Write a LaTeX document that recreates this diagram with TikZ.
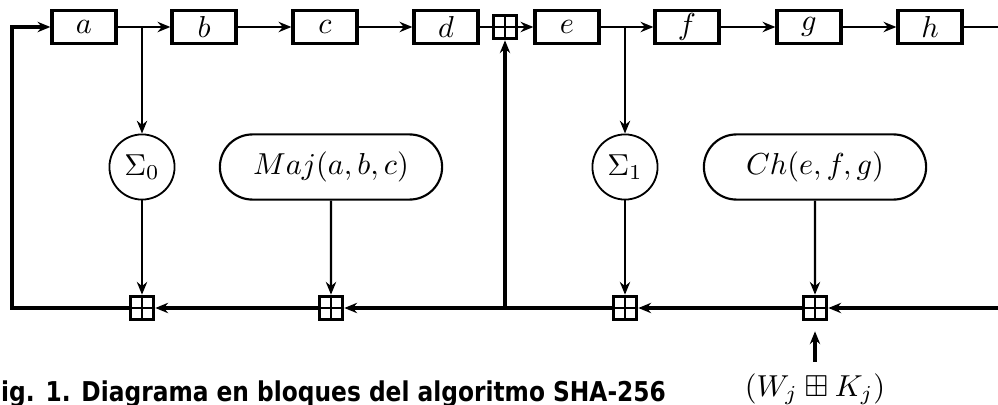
\documentclass[tikz,border=0pt]{standalone}
\usepackage{fontspec}
\usepackage{amssymb}
\usetikzlibrary{shapes.misc, arrows.meta}
\newfontfamily\capfont{DejaVu Sans}

\begin{document}
\begin{tikzpicture}[
			x=0.33pt, y=-0.33pt,
			line width=0.8pt, >={Stealth[length=4.2pt, width=3.4pt]},
			reg/.style={draw, line width=1.2pt, minimum width=21pt, minimum height=11pt, inner sep=0pt},
			sig/.style={draw, circle, line width=0.6pt, minimum size=21.5pt, inner sep=0pt},
			fun/.style={draw, rounded rectangle, line width=0.7pt, minimum width=80pt, minimum height=21.5pt},
			adder/.style={draw, line width=1pt, minimum size=7.8pt, inner sep=0pt,
				path picture={\draw[line width=0.7pt] (path picture bounding box.north) -- (path picture bounding box.south)
					(path picture bounding box.west) -- (path picture bounding box.east);}}
			]
			\useasboundingbox (0,0) rectangle (998,405);
			% registers
			\node[reg] (a) at (84,27) {$a$};
			\node[reg] (b) at (204,27) {$b$};
			\node[reg] (c) at (325,27) {$c$};
			\node[reg] (d) at (446,27) {$d$};
			\node[adder] (add0) at (505,27) {};
			\node[reg] (e) at (567,27) {$e$};
			\node[reg] (f) at (687,27) {$f$};
			\node[reg] (g) at (809,27) {$g$};
			\node[reg] (h) at (930,27) {$h$};
			% functions
			\node[sig] (sig0) at (142,167) {$\Sigma_0$};
			\node[fun] (maj) at (331,167) {$Maj(a,b,c)$};
			\node[sig] (sig1) at (625,167) {$\Sigma_1$};
			\node[fun] (ch) at (815,167) {$Ch(e,f,g)$};
			% adders
			\node[adder] (add1) at (142,308) {};
			\node[adder] (add2) at (331,308) {};
			\node[adder] (add3) at (625,308) {};
			\node[adder] (add4) at (815,308) {};
			\node (wk) at (815,389) {$(W_j \boxplus K_j)$};
			\coordinate (br0) at (142,27);
			\coordinate (br1) at (625,27);
			\coordinate (lft) at (12,27);
			\coordinate (jn) at (505,308);
			\coordinate (hout) at (998,27);
			\coordinate (rin) at (998,308);
			\path[->]
			(a) edge (b)
			(b) edge (c)
			(c) edge (d)
			(add0) edge (e)
			(e) edge (f)
			(f) edge (g)
			(g) edge (h)
			(br0) edge (sig0)
			(br1) edge (sig1)
			(sig0) edge (add1)
			(sig1) edge (add3)
			(maj) edge (add2)
			(ch) edge (add4)
			(wk) edge [shorten >=3.3pt, line width=1pt] (add4);
			\draw (d) -- (add0);
			\draw (h) -- (hout);
			\draw[->, line width=1pt] (rin) -- (add4);
			\draw[->, line width=1pt] (add4) -- (add3);
			\draw[->, line width=1pt] (add3) -- (add2);
			\draw[->, line width=1pt] (add2) -- (add1);
			\draw[->, line width=1pt] (jn) -- (add0);
			\draw[->, line width=1pt] (add1) -| (lft) -- (a);
			% caption
			\node[anchor=base west, inner sep=0pt, font={\capfont\bfseries\fontsize{9}{10}\selectfont}] (cap) at (0,401) {\scalebox{0.855}[1]{ig. 1. Diagrama en bloques del algoritmo SHA-256}};
		\end{tikzpicture}
\end{document}
